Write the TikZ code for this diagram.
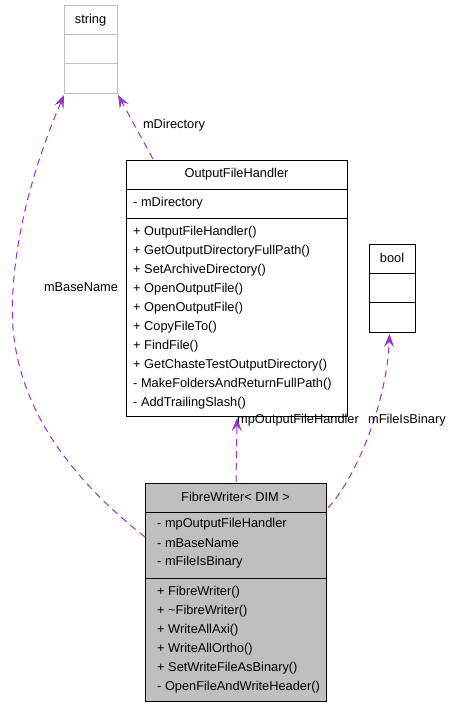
\documentclass[tikz,border=0pt]{standalone}
\usepackage{fontspec}
\setmainfont{Liberation Sans}
\usetikzlibrary{arrows.meta,calc}
\definecolor{edgepurple}{HTML}{9A32CD}
\definecolor{boxgray}{HTML}{BFBFBF}
\begin{document}
\begin{tikzpicture}[x=1pt,y=-1pt,
  classbox/.style={draw=black,line width=1pt,rectangle,inner sep=0pt,anchor=north west},
  grayclass/.style={classbox,draw=boxgray},
  fwclass/.style={classbox,fill=boxgray},
  divider/.style={line width=1pt},
  member/.style={anchor=west,inner sep=0pt,font=\fontsize{12.8}{15}\selectfont},
  titletext/.style={anchor=center,inner sep=0pt,font=\fontsize{12.8}{15}\selectfont},
  edgelabel/.style={inner sep=0pt,font=\fontsize{12.8}{15}\selectfont},
  relation/.style={draw=edgepurple,line width=1pt,dash pattern=on 7pt off 5pt,
    -{Stealth[length=13pt,width=10pt,inset=5pt,fill=edgepurple]}}
]
\useasboundingbox (0,0) rectangle (453,707);

% string
\node[grayclass,minimum width=53pt,minimum height=88pt] (str) at (64,5) {};
\draw[divider,boxgray] (64,34) -- (117,34);
\draw[divider,boxgray] (64,63) -- (117,63);
\node[titletext] (strt) at (90.5,20) {string};

% OutputFileHandler
\node[classbox,minimum width=221pt,minimum height=256pt] (ofh) at (126,160) {};
\draw[divider] (126,189) -- (347,189);
\draw[divider] (126,218) -- (347,218);
\node[titletext] (ofht) at (236.5,174) {OutputFileHandler};
\node[member] (o0) at (133,203) {- mDirectory};
\node[member] (o1) at (133,232) {+ OutputFileHandler()};
\node[member] (o2) at (133,251) {+ GetOutputDirectoryFullPath()};
\node[member] (o3) at (133,270) {+ SetArchiveDirectory()};
\node[member] (o4) at (133,289) {+ OpenOutputFile()};
\node[member] (o5) at (133,308) {+ OpenOutputFile()};
\node[member] (o6) at (133,327) {+ CopyFileTo()};
\node[member] (o7) at (133,346) {+ FindFile()};
\node[member] (o8) at (133,365) {+ GetChasteTestOutputDirectory()};
\node[member] (o9) at (133,384) {- MakeFoldersAndReturnFullPath()};
\node[member] (o10) at (133,403) {- AddTrailingSlash()};

% bool
\node[classbox,minimum width=46pt,minimum height=88pt] (bool) at (369,244) {};
\draw[divider] (369,273) -- (415,273);
\draw[divider] (369,302) -- (415,302);
\node[titletext] (boolt) at (392,258) {bool};

% FibreWriter
\node[fwclass,minimum width=181pt,minimum height=218pt] (fw) at (145,483) {};
\draw[divider] (145,512) -- (326,512);
\draw[divider] (145,578) -- (326,578);
\node[titletext] (fwt) at (235.5,497) {FibreWriter< DIM >};
\node[member] (f1) at (157,524) {- mpOutputFileHandler};
\node[member] (f2) at (157,543) {- mBaseName};
\node[member] (f3) at (157,562) {- mFileIsBinary};
\node[member] (f4) at (157,592) {+ FibreWriter()};
\node[member] (f5) at (157,611) {+ \textasciitilde FibreWriter()};
\node[member] (f6) at (157,630) {+ WriteAllAxi()};
\node[member] (f7) at (157,649) {+ WriteAllOrtho()};
\node[member] (f8) at (157,668) {+ SetWriteFileAsBinary()};
\node[member] (f9) at (157,687) {- OpenFileAndWriteHeader()};

% relations
\draw[relation] ($(ofh.north west)+(27,-1)$) -- ($(str.south east)+(0,1)$);
\node[edgelabel] (l1) at (174,125) {mDirectory};

\draw[relation] ($(fw.north west)+(0,54)$) .. controls (60,470) and (5,390) .. (13,290)
  .. controls (18,210) and (45,140) .. ($(str.south west)+(0,1)$);
\node[edgelabel] (l2) at (81,287) {mBaseName};

\draw[relation] ($(fw.north)+(0,-1)$) -- ($(ofh.south)+(0,1)$);
\node[edgelabel,anchor=west] (l3) at (237,420) {mpOutputFileHandler};

\draw[relation] ($(fw.north east)+(1,25)$) .. controls (358,475) and (387,400) .. ($(bool.south)+(-3,1)$);
\node[edgelabel,anchor=west] (l4) at (368,420) {mFileIsBinary};
\end{tikzpicture}
\end{document}
